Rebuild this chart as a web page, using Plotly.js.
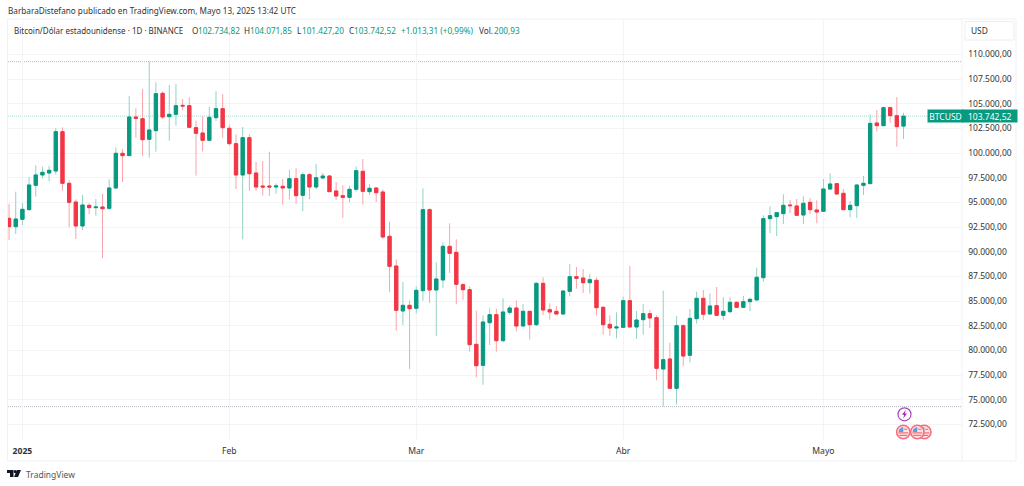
<!DOCTYPE html>
<html><head><meta charset="utf-8">
<script src="https://cdn.plot.ly/plotly-3.0.1.min.js"></script>
<style>html,body{margin:0;padding:0;background:#fff}#c{width:1024px;height:486px}</style>
</head><body><div id="c"></div>
<script>
const dates=["2024-12-30","2024-12-31","2025-01-01","2025-01-02","2025-01-03","2025-01-04","2025-01-05","2025-01-06","2025-01-07","2025-01-08","2025-01-09","2025-01-10","2025-01-11","2025-01-12","2025-01-13","2025-01-14","2025-01-15","2025-01-16","2025-01-17","2025-01-18","2025-01-19","2025-01-20","2025-01-21","2025-01-22","2025-01-23","2025-01-24","2025-01-25","2025-01-26","2025-01-27","2025-01-28","2025-01-29","2025-01-30","2025-01-31","2025-02-01","2025-02-02","2025-02-03","2025-02-04","2025-02-05","2025-02-06","2025-02-07","2025-02-08","2025-02-09","2025-02-10","2025-02-11","2025-02-12","2025-02-13","2025-02-14","2025-02-15","2025-02-16","2025-02-17","2025-02-18","2025-02-19","2025-02-20","2025-02-21","2025-02-22","2025-02-23","2025-02-24","2025-02-25","2025-02-26","2025-02-27","2025-02-28","2025-03-01","2025-03-02","2025-03-03","2025-03-04","2025-03-05","2025-03-06","2025-03-07","2025-03-08","2025-03-09","2025-03-10","2025-03-11","2025-03-12","2025-03-13","2025-03-14","2025-03-15","2025-03-16","2025-03-17","2025-03-18","2025-03-19","2025-03-20","2025-03-21","2025-03-22","2025-03-23","2025-03-24","2025-03-25","2025-03-26","2025-03-27","2025-03-28","2025-03-29","2025-03-30","2025-03-31","2025-04-01","2025-04-02","2025-04-03","2025-04-04","2025-04-05","2025-04-06","2025-04-07","2025-04-08","2025-04-09","2025-04-10","2025-04-11","2025-04-12","2025-04-13","2025-04-14","2025-04-15","2025-04-16","2025-04-17","2025-04-18","2025-04-19","2025-04-20","2025-04-21","2025-04-22","2025-04-23","2025-04-24","2025-04-25","2025-04-26","2025-04-27","2025-04-28","2025-04-29","2025-04-30","2025-05-01","2025-05-02","2025-05-03","2025-05-04","2025-05-05","2025-05-06","2025-05-07","2025-05-08","2025-05-09","2025-05-10","2025-05-11","2025-05-12","2025-05-13"];
const opens=[93387,92542,93286,94265,96731,97779,97981,98184,102170,96934,95042,92610,94704,94468,94535,94401,96461,99974,99738,103656,103487,101393,102271,106055,103690,103926,104838,104805,102575,102035,101292,103589,104501,102508,100954,97778,101562,97981,96663,96663,96562,96630,96461,97407,95718,97812,96562,97474,97677,96157,95684,95515,96326,98150,96089,96461,96055,91563,88556,83996,84570,84266,86057,94265,86124,87138,90549,89941,86665,86156,80616,78488,82812,83623,80988,83859,84298,82474,83960,82609,86798,84129,83960,83690,85987,87474,87338,86866,87102,84366,82643,82271,82339,85041,82373,83116,83724,83319,78117,79130,76157,82508,79502,83217,85279,83692,84536,83557,83928,84874,84367,84941,85111,87374,93353,93556,93860,94738,94637,93724,95008,94231,94096,96359,96900,95920,94265,94670,96731,96900,103048,102778,104602,103791,102734.82];
const highs=[94840,96089,94941,97576,98758,98623,98724,102541,102609,97238,95312,95752,94907,95346,95853,97339,100582,100413,105784,104534,106494,109264,107169,106257,106899,107000,105480,105649,103285,103758,104703,106257,105987,102879,101899,102643,101899,99130,99197,100143,96934,97373,98319,98454,98048,98015,98893,97981,97778,97069,96731,96663,98657,99400,96866,96495,96326,93049,89232,86935,85043,86496,96427,94400,88928,90955,92880,91259,86800,86494,84028,83555,84264,84231,85278,84568,85041,84704,83994,86899,87406,84771,84501,86089,88757,88453,88251,87744,87406,84501,83555,83859,85447,88555,83994,84704,84096,83555,86055,80785,83488,82643,84197,85954,86124,85786,86428,85381,85381,84975,85516,85347,88387,93691,94603,93995,95819,95245,95346,95616,95447,95211,97373,97947,96934,96359,95143,96799,97677,103926,104365,104703,104703,105683,104071.85];
const lows=[91191,91799,92711,94164,95583,97441,97137,97812,96191,92509,91293,92205,93826,93657,89333,94232,96427,97069,99704,101562,99704,99535,100143,103420,101258,102778,104332,102609,97711,100177,101292,103251,101562,100751,96359,91259,96191,96191,95684,95650,95887,94772,95279,94839,94096,95312,96326,97339,96089,95245,93421,95008,96089,94772,95751,95042,91326,85921,82003,82577,78118,83760,85043,84807,81462,86327,87847,84672,85111,79873,77272,76529,80549,79873,80819,83623,81934,82440,81089,82474,83589,83116,83589,83656,85481,86258,85818,85751,83521,81596,81461,81224,82339,82339,81157,81596,82271,76968,74299,76157,74536,78420,78792,82711,83084,83624,83557,83084,83760,84334,84334,83962,85111,86969,91867,91596,92812,93893,93724,92812,93826,92880,94062,96258,95819,94265,93488,93420,95751,96866,102203,102744,103082,100649,101427.20];
const closes=[92542,93320,94299,96765,97779,98049,98251,102170,96934,95008,92610,94738,94468,94535,94367,96461,99974,99738,103656,103521,101359,102339,106021,103656,103926,104805,104771,102609,102001,101292,103622,104501,102575,100954,97778,101562,97913,96562,96562,96562,96663,96461,97407,95684,97812,96562,97508,97677,96089,95650,95515,96326,98217,96123,96427,95988,91495,88522,84064,84570,84232,86090,94265,86124,87239,90549,89840,86699,86158,80582,78454,82879,83623,80988,83893,84298,82474,83960,82609,86798,84096,83893,83690,86021,87474,87305,86866,87170,84332,82609,82271,82373,85041,82373,83082,83724,83285,78184,79062,76157,82508,79434,83251,85278,83658,84502,83557,83962,84874,84367,84941,85178,87408,93353,93657,93961,94704,94670,93691,94907,94265,94028,96359,96866,95853,94265,94704,96765,96934,103014,102778,104602,103791,102676,103742.52];
const yTicks=[72500,75000,77500,80000,82500,85000,87500,90000,92500,95000,97500,100000,102500,105000,107500,110000];
const yLabels=["72.500,00","75.000,00","77.500,00","80.000,00","82.500,00","85.000,00","87.500,00","90.000,00","92.500,00","95.000,00","97.500,00","100.000,00","102.500,00","105.000,00","107.500,00","110.000,00"];
const xTicks=["2025-01-01","2025-02-01","2025-03-01","2025-04-01","2025-05-01"];
const xLabels=["<b>2025</b>","Feb","Mar","Abr","Mayo"];
const UP="#089981",DOWN="#f23645",UPW="#93d2c3",DOWNW="#f9a3ab";
const W=1024,H=486,M={l:8,r:62,t:20,b:46};
const px=x=>(x-M.l)/(W-M.l-M.r), py=y=>(H-M.b-y)/(H-M.t-M.b);
const FONT='"Noto Sans", sans-serif';
const S=8.2,SA=8.5;
const anns=[],shapes=[];
const txt=(x,y,t,c,s)=>anns.push({xref:'paper',yref:'paper',x:px(x),y:py(y),text:t,showarrow:false,xanchor:'left',yanchor:'middle',borderpad:0,font:{family:FONT,size:s||S,color:c||'#333'}});
txt(7,10.5,"BarbaraDistefano publicado en TradingView.com, Mayo 13, 2025 13:42 UTC","#333");
txt(13,30,"Bitcoin/Dólar estadounidense · 1D · BINANCE","#333",8);
txt(190.5,30,"O","#333");txt(196.5,30,"102.734,82",UP);
txt(243,30,"H","#333");txt(249,30,"104.071,85",UP);
txt(296,30,"L","#333");txt(300.7,30,"101.427,20",UP);
txt(347.5,30,"C","#333");txt(353,30,"103.742,52",UP);
txt(400,30,"+1.013,31 (+0,99%)",UP);
txt(477.5,30,"Vol.","#333");txt(492.5,30,"200,93",UP);
txt(24.5,474,"TradingView","#555",8.5);
txt(970.5,30.5,"USD","#333",8.4);
const last=closes[closes.length-1];
const tag=(x,w,t)=>anns.push({xref:'paper',yref:'y',x:px(x),y:last,text:t,showarrow:false,xanchor:'left',yanchor:'middle',width:w,height:12,align:'center',valign:'middle',bgcolor:UP,borderpad:0,font:{family:FONT,size:SA,color:'#fff'}});
tag(926.5,35,"BTCUSD");tag(962,53.5,"103.742,52");
const rect=(x0,y0,x1,y1,o)=>shapes.push(Object.assign({type:'rect',xref:'paper',yref:'paper',x0:px(x0),x1:px(x1),y0:py(y0),y1:py(y1),line:{width:0}},o));
const circ=(x,y,r,o)=>shapes.push(Object.assign({type:'circle',xref:'paper',yref:'paper',x0:px(x-r),x1:px(x+r),y0:py(y-r),y1:py(y+r)},o));
const poly=(pts,o)=>shapes.push(Object.assign({type:'path',xref:'paper',yref:'paper',path:'M'+pts.map(p=>px(p[0])+','+py(p[1])).join(' L')+' Z',line:{width:0}},o));
rect(7.5,19,1016,461,{line:{color:'#eff1f4',width:1}});
shapes.push({type:'line',xref:'paper',yref:'paper',x0:px(962),x1:px(962),y0:py(19),y1:py(461),line:{color:'#eff1f4',width:1}});
rect(965,21.5,1014,40,{line:{color:'#eceef2',width:1}});
const lvl=(v,c)=>shapes.push({type:'line',xref:'paper',yref:'y',x0:0,x1:1,y0:v,y1:v,layer:'below',line:{color:c,width:1,dash:'1px,1px'}});
lvl(Math.max(...highs),'#b5b8bf');lvl(Math.min(...lows),'#b5b8bf');lvl(last,'#a5dccd');
poly([[7,470],[13.5,470],[13.5,477],[10,477],[10,473],[7,473]],{fillcolor:'#131722'});
circ(15.3,471.6,1.6,{fillcolor:'#131722',line:{width:0}});
poly([[17,470],[21,470],[18,477],[14,477]],{fillcolor:'#131722'});
circ(904.5,414.3,6.5,{fillcolor:'#fff',line:{color:'#ab47bc',width:1.2}});
poly([[905.8,410],[902,414.8],[904.2,414.8],[903.2,418.5],[907,413.6],[904.8,413.6]],{fillcolor:'#9c27b0'});
[924.3,917.3,903.3].forEach(cx=>{
 circ(cx,432,6.7,{fillcolor:'#ffe3e6',line:{color:'#f6707c',width:1.6}});
 rect(cx-4,436,cx+4,434.8,{fillcolor:'#ee6f78'});
 rect(cx-5,433.5,cx+5,432.3,{fillcolor:'#ee6f78'});
 poly([[cx-4.7,432],[cx-4.2,429.5],[cx-1.8,427.4],[cx,427],[cx,432]],{fillcolor:'#5c9fe0'});
 rect(cx+.8,428.7,cx+4,429.8,{fillcolor:'#ee6f78'});
});
const wicks={type:'candlestick',x:dates,open:opens,high:highs,low:lows,close:closes,whiskerwidth:0,
 increasing:{line:{color:UPW,width:1},fillcolor:UPW},decreasing:{line:{color:DOWNW,width:1},fillcolor:DOWNW},hoverinfo:'skip'};
const bodies={type:'candlestick',x:dates,open:opens,close:closes,
 high:opens.map((o,i)=>Math.max(o,closes[i])),low:opens.map((o,i)=>Math.min(o,closes[i])),whiskerwidth:0,
 increasing:{line:{color:UP,width:1},fillcolor:UP},decreasing:{line:{color:DOWN,width:1},fillcolor:DOWN},hoverinfo:'skip'};
const layout={width:W,height:H,margin:M,paper_bgcolor:'#fff',plot_bgcolor:'#fff',showlegend:false,boxgap:0.3,
 font:{family:FONT,size:S,color:'#333'},
 xaxis:{type:'date',range:["2024-12-29 20:10","2025-05-21 18:15"],tickmode:'array',tickvals:xTicks,ticktext:xLabels,showgrid:true,gridcolor:'#f3f4f6',gridwidth:1,zeroline:false,showline:false,ticks:'outside',ticklen:3,tickcolor:'rgba(0,0,0,0)',rangeslider:{visible:false},tickfont:{family:FONT,size:8.6,color:'#333'},fixedrange:true},
 yaxis:{side:'right',range:[70920,113486],tickmode:'array',tickvals:yTicks,ticktext:yLabels,showgrid:true,gridcolor:'#f3f4f6',gridwidth:1,zeroline:false,showline:false,ticks:'outside',ticklen:3.5,tickcolor:'rgba(0,0,0,0)',tickfont:{family:FONT,size:SA,color:'#333'},fixedrange:true},
 annotations:anns,shapes:shapes};
Plotly.newPlot('c',[wicks,bodies],layout,{displayModeBar:false,staticPlot:true});
</script></body></html>
